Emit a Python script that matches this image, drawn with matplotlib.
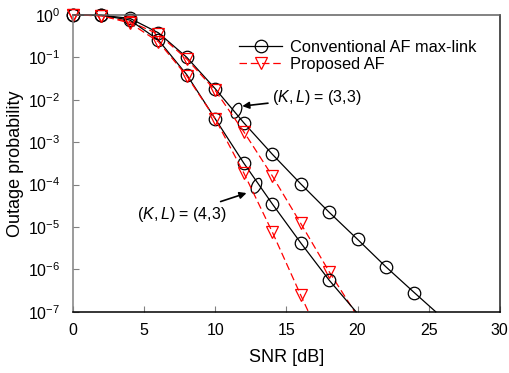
import numpy as np
import matplotlib
matplotlib.use("Agg")
import matplotlib.pyplot as plt
from matplotlib.patches import Ellipse
from matplotlib.transforms import ScaledTranslation

plt.rcParams['font.family'] = ['Liberation Sans', 'DejaVu Sans']
plt.rcParams['mathtext.fontset'] = 'custom'
plt.rcParams['mathtext.rm'] = 'Liberation Sans'
plt.rcParams['mathtext.it'] = 'Liberation Sans:italic'

# SNR [dB] (markers every 2 dB), last point = where the curve leaves the axes
snr_conv33 = [0, 2, 4, 6, 8, 10, 12, 14, 16, 18, 20, 22, 24, 25.5]
log_conv33 = [0, -0.01, -0.08, -0.42, -1.0, -1.74, -2.54, -3.28, -3.98, -4.65, -5.29, -5.94, -6.55, -7.0]

snr_conv43 = [0, 2, 4, 6, 8, 10, 12, 14, 16, 18, 19.9]
log_conv43 = [0, -0.01, -0.12, -0.59, -1.41, -2.45, -3.49, -4.45, -5.37, -6.25, -7.0]

snr_prop33 = [0, 2, 4, 6, 8, 10, 12, 14, 16, 18, 19.8]
log_prop33 = [0, -0.02, -0.16, -0.45, -1.04, -1.78, -2.75, -3.79, -4.91, -6.05, -7.0]

snr_prop43 = [0, 2, 4, 6, 8, 10, 12, 14, 16, 16.55]
log_prop43 = [0, -0.02, -0.19, -0.63, -1.44, -2.45, -3.72, -5.11, -6.6, -7.0]

fig = plt.figure(figsize=(5.1, 3.73), dpi=100)
ax = fig.add_axes([0.143, 0.164, 0.837, 0.796])

def curva(x, ly, **kw):
    y = 10.0 ** np.array(ly)
    ax.plot(x, y, markevery=slice(0, len(x) - 1), markerfacecolor='none',
            clip_on=False, **kw)

conv = dict(color='black', lw=0.9, marker='o', markersize=9, markeredgewidth=0.9)
prop = dict(color='red', lw=0.9, ls=(0, (6, 3)), marker='v', markersize=9,
            markeredgewidth=0.9)

curva(snr_conv33, log_conv33, label='Conventional AF max-link', **conv)
curva(snr_prop33, log_prop33, label='Proposed AF', **prop)
curva(snr_conv43, log_conv43, **conv)
curva(snr_prop43, log_prop43, **prop)

ax.set_yscale('log')
ax.set_xlim(0, 30)
ax.set_ylim(1e-7, 1)
ax.set_xticks([0, 5, 10, 15, 20, 25, 30])
ax.set_yticks([10.0 ** k for k in range(-7, 1)])
ax.minorticks_off()
ax.tick_params(direction='in', length=4, labelsize=11.5, color='#808080')
ax.tick_params(axis='x', pad=8)
ax.tick_params(axis='y', pad=9)
ax.set_xlabel('SNR [dB]', fontsize=13, labelpad=8)
ax.set_ylabel('Outage probability', fontsize=13, labelpad=3)

ax.spines['left'].set_color('#808080')
ax.spines['top'].set_color('#606060')
ax.spines['right'].set_color('#202020')
ax.spines['bottom'].set_color('black')
for s in ax.spines.values():
    s.set_linewidth(1.1)

leg = ax.legend(loc='upper right', bbox_to_anchor=(0.972, 0.955), frameon=False,
                fontsize=11.8, handlelength=2.6, handletextpad=0.5,
                labelspacing=0.12, borderaxespad=0.3)

# elipses que agrupan las curvas
def elipse(xd, yd, ang):
    tr = fig.dpi_scale_trans + ScaledTranslation(xd, yd, ax.transData)
    ax.add_patch(Ellipse((0, 0), 0.09, 0.16, angle=ang, fill=False,
                         color='black', lw=0.9, transform=tr))

elipse(11.5, 10 ** -2.26, -25)
elipse(12.9, 10 ** -4.03, -25)

ax.annotate('$(K,L)$ = (3,3)', xy=(11.9, 10 ** -2.15), xytext=(14.0, 10 ** -1.95),
            fontsize=11.5, va='center', ha='left',
            arrowprops=dict(arrowstyle='-|>', color='black', lw=1.2,
                            mutation_scale=10, shrinkA=1, shrinkB=0))
ax.annotate('$(K,L)$ = (4,3)', xy=(12.2, 10 ** -4.2), xytext=(10.8, 10 ** -4.7),
            fontsize=11.5, va='center', ha='right',
            arrowprops=dict(arrowstyle='-|>', color='black', lw=1.2,
                            mutation_scale=10, shrinkA=1, shrinkB=0))

fig.savefig('out.png', dpi=100)
